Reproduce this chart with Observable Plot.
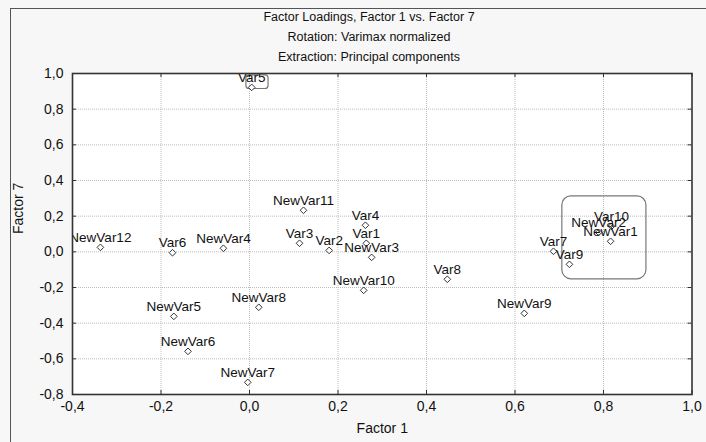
<!DOCTYPE html>
<html>
<head>
<meta charset="utf-8">
<script src="https://cdn.jsdelivr.net/npm/d3@7"></script>
<script src="https://cdn.jsdelivr.net/npm/@observablehq/plot@0.6"></script>
<style>
  html, body { margin: 0; padding: 0; }
  #wrap { position: relative; width: 706px; height: 442px; overflow: hidden; background: #f7f7f7; font-family: "Liberation Sans", Arial, sans-serif; }
  #outer { position: absolute; left: 10px; top: 8px; width: 720px; height: 460px; border: 1px solid #555; box-sizing: border-box; }
  #title { position: absolute; left: 0; top: 7px; width: 738px; text-align: center; font-size: 12.5px; line-height: 20px; color: #111; }
  #chart { position: absolute; left: 0; top: 64px; }
</style>
</head>
<body>
<div id="wrap">
  <div id="outer"></div>
  <div id="title">
    <div>Factor Loadings, Factor 1 vs. Factor 7</div>
    <div>Rotation: Varimax normalized</div>
    <div>Extraction: Principal components</div>
  </div>
  <div id="chart"></div>
</div>
<script>
const names = ["Var1","Var2","Var3","Var4","Var5","Var6","Var7","Var8","Var9","Var10",
  "NewVar1","NewVar2","NewVar3","NewVar4","NewVar5","NewVar6","NewVar7","NewVar8","NewVar9","NewVar10","NewVar11","NewVar12"];
const factor1 = [0.264,0.180,0.113,0.262,0.005,-0.174,0.687,0.447,0.723,0.818,
  0.816,0.789,0.276,-0.059,-0.171,-0.139,-0.004,0.021,0.621,0.258,0.122,-0.337];
const factor7 = [0.048,0.008,0.048,0.149,0.922,-0.005,0.003,-0.154,-0.070,0.143,
  0.059,0.109,-0.031,0.020,-0.362,-0.558,-0.732,-0.311,-0.345,-0.216,0.233,0.025];
const xTicks = [-0.4,-0.2,0.0,0.2,0.4,0.6,0.8,1.0];
const yTicks = [-0.8,-0.6,-0.4,-0.2,0.0,0.2,0.4,0.6,0.8,1.0];
const xLabel = "Factor 1";
const yLabel = "Factor 7";
// highlight boxes (data coordinates)
const boxX1 = [-0.007, 0.707];
const boxX2 = [0.043, 0.897];
const boxY1 = [0.913, -0.154];
const boxY2 = [0.990, 0.311];

const points = names.map((n, i) => ({name: n, f1: factor1[i], f7: factor7[i]}));
const boxes = boxX1.map((d, i) => ({x1: d, x2: boxX2[i], y1: boxY1[i], y2: boxY2[i]}));
const fmt = d => d.toFixed(1).replace(".", ",");

const W = 706, H = 378, mt = 9, mb = 48, ml = 72, mr = 14.5;
const ph = H - mt - mb, pw = W - ml - mr;
const tk = 4;

const plot = Plot.plot({
  width: W, height: H,
  marginTop: mt, marginBottom: mb, marginLeft: ml, marginRight: mr,
  style: {fontFamily: "Liberation Sans, Arial, sans-serif", fontSize: "14px", color: "#111", background: "transparent", overflow: "visible"},
  x: {domain: [-0.4, 1.0], ticks: xTicks, tickFormat: fmt, tickSize: 0, tickPadding: 7, label: null},
  y: {domain: [-0.8, 1.0], ticks: yTicks, tickFormat: fmt, tickSize: 0, tickPadding: 9, label: null},
  marks: [
    Plot.frame({fill: "white", stroke: null}),
    Plot.ruleX(xTicks.slice(1, -1), {stroke: "#bdbdbd", strokeDasharray: "1,1"}),
    Plot.ruleY(yTicks.slice(1, -1), {stroke: "#bdbdbd", strokeDasharray: "1,1"}),
    Plot.ruleX(xTicks, {insetTop: ph - tk, stroke: "#333"}),
    Plot.ruleX(xTicks, {insetBottom: ph - tk, stroke: "#333"}),
    Plot.ruleY(yTicks, {insetRight: pw - tk, stroke: "#333"}),
    Plot.ruleY(yTicks, {insetLeft: pw - tk, stroke: "#333"}),
    Plot.rect(boxes.slice(0, 1), {x1: "x1", x2: "x2", y1: "y1", y2: "y2", rx: 3, fill: "none", stroke: "#777", strokeWidth: 1.2}),
    Plot.rect(boxes.slice(1), {x1: "x1", x2: "x2", y1: "y1", y2: "y2", rx: 9, fill: "none", stroke: "#777", strokeWidth: 1.2}),
    Plot.dot(points, {x: "f1", y: "f7", symbol: "diamond2", r: 3, fill: "white", stroke: "#333", strokeWidth: 1}),
    Plot.text(points, {x: "f1", y: "f7", text: "name", dy: -10, fontSize: 13.5, fill: "#111", clip: true}),
    Plot.frame({stroke: "#333", strokeWidth: 1.6}),
    Plot.text([xLabel], {frameAnchor: "bottom", dy: 38, fontSize: 14, fill: "#111"}),
    Plot.text([yLabel], {frameAnchor: "left", dx: -54, rotate: -90, fontSize: 14, fill: "#111"})
  ]
});
document.getElementById("chart").appendChild(plot);
</script>
</body>
</html>
